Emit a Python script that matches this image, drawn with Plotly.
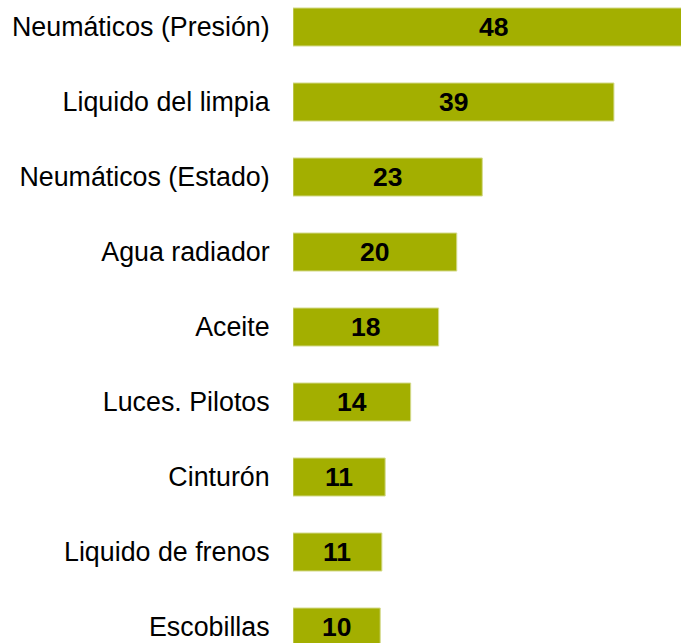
import plotly.graph_objects as go

categories = ["Neumáticos (Presión)", "Liquido del limpia", "Neumáticos (Estado)",
              "Agua radiador", "Aceite", "Luces. Pilotos", "Cinturón",
              "Liquido de frenos", "Escobillas"]
values = [48.8, 39.0, 23.0, 19.9, 17.7, 14.3, 11.2, 10.8, 10.6]
value_labels = ["48", "39", "23", "20", "18", "14", "11", "11", "10"]

FONT = "Liberation Sans, Arial, sans-serif"

fig = go.Figure(go.Bar(
    x=values, y=categories, orientation="h",
    marker=dict(color="#A3AF00", line=dict(color="#D4DA8C", width=1)),
    hoverinfo="skip",
))

for c, v, t in zip(categories, values, value_labels):
    fig.add_annotation(x=v / 2, y=c, text=f"<b>{t}</b>", showarrow=False,
                       font=dict(family=FONT, size=26.5, color="#000000"),
                       xanchor="center", yanchor="middle")

fig.update_layout(
    width=681, height=643,
    margin=dict(l=293, r=0, t=0, b=0),
    paper_bgcolor="white", plot_bgcolor="white",
    bargap=0.493,
    showlegend=False,
    font=dict(family=FONT, size=26.8, color="#000000"),
    xaxis=dict(range=[0, 47.15], visible=False, fixedrange=True),
    yaxis=dict(categoryorder="array", categoryarray=categories,
               range=[8.213, -0.36], showgrid=False, showline=False,
               zeroline=False, ticks="outside", ticklen=17, fixedrange=True,
               tickcolor="rgba(0,0,0,0)",
               tickfont=dict(family=FONT, size=26.8, color="#000000")),
)

fig.write_html("out.html", config={"displayModeBar": False, "staticPlot": True},
               post_script="document.body.style.margin='0';document.body.style.overflow='hidden';")
